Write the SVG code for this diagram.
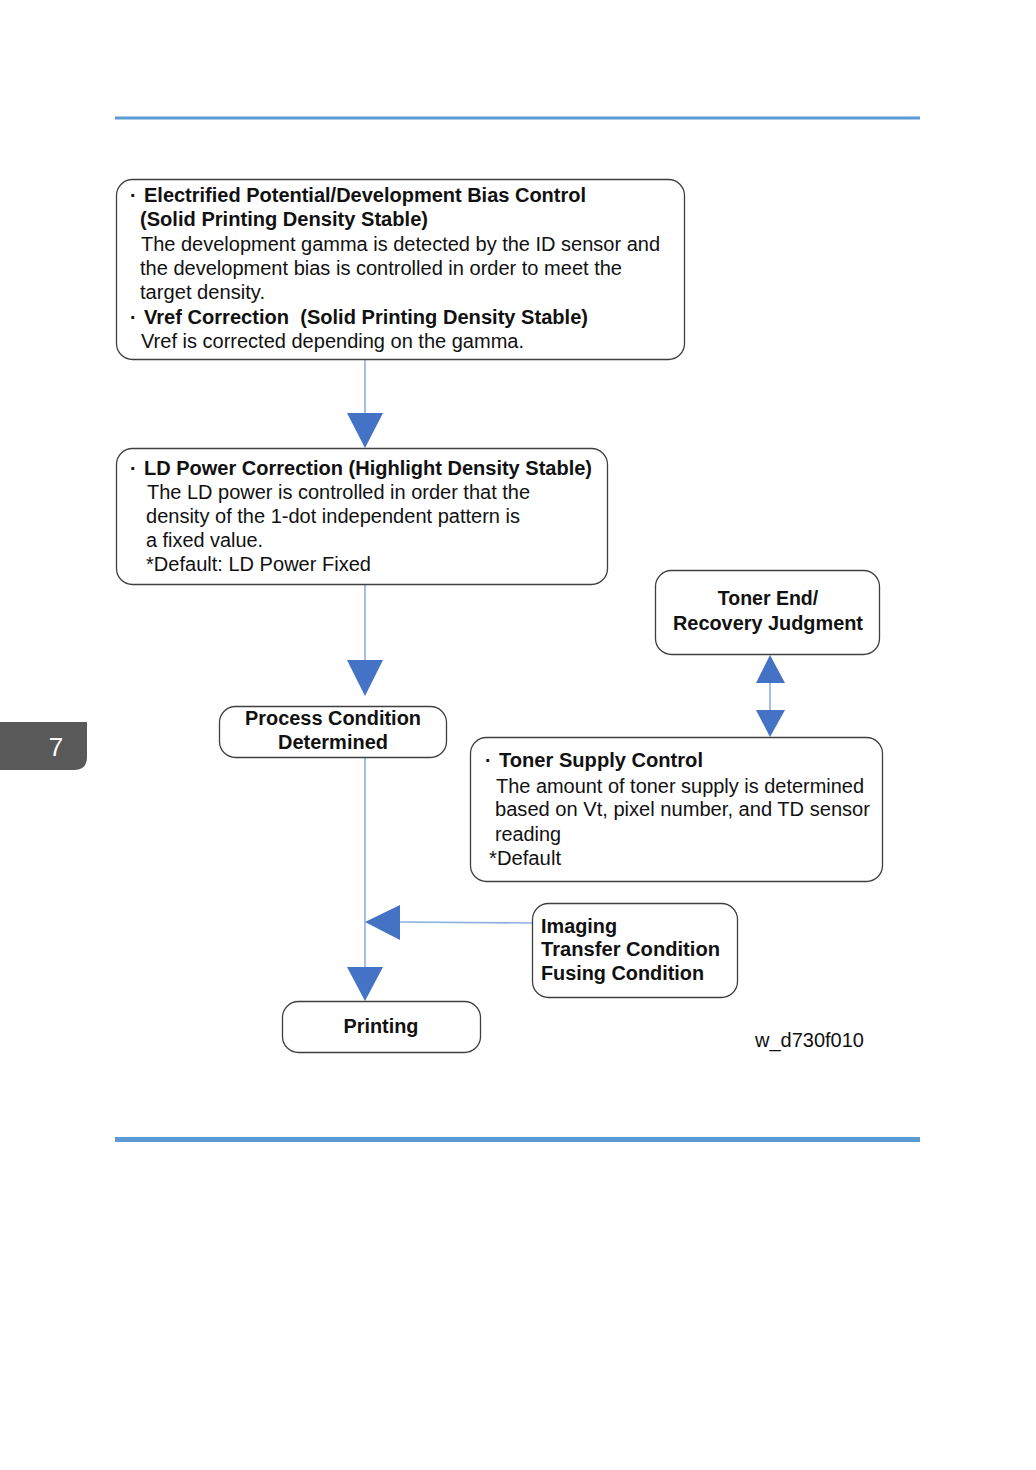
<svg xmlns="http://www.w3.org/2000/svg" width="1036" height="1470" viewBox="0 0 1036 1470">
<style>
.box{fill:#fff;stroke:#3f3f3f;stroke-width:1.3}
.t{font-family:"Liberation Sans",Arial,sans-serif;font-size:19.5px;fill:#111}
.b{font-weight:bold}
.ln{stroke:#8eb0df;stroke-width:1.6;fill:none}
.ar{fill:#4472c4}
</style>
<rect width="1036" height="1470" fill="#fff"/>
<rect x="115" y="116.5" width="805" height="3" fill="#5b9bd5"/>
<rect x="115" y="1137" width="805" height="5" fill="#5b9bd5"/>
<g id="tab">
<path d="M0,722 H87 V757 Q87,770 74,770 H0 Z" fill="#595959"/>
<text x="56" y="756" font-family="Liberation Sans,Arial,sans-serif" font-size="26" fill="#fff" text-anchor="middle">7</text>
</g>
<g id="connectors">
<line class="ln" x1="365" y1="360" x2="365" y2="416"/>
<polygon class="ar" points="347,413 383,413 365,448"/>
<line class="ln" x1="365" y1="585" x2="365" y2="663"/>
<polygon class="ar" points="347,660 383,660 365,696"/>
<line class="ln" x1="365" y1="758" x2="365" y2="970"/>
<polygon class="ar" points="347,967 383,967 365,1001"/>
<line class="ln" x1="532" y1="923" x2="398" y2="922"/>
<polygon class="ar" points="400,905 400,940 365,922"/>
<line class="ln" x1="770" y1="680" x2="770" y2="712"/>
<polygon class="ar" points="770,655 785,683 756,683"/>
<polygon class="ar" points="756,710 785,710 770,737"/>
</g>
<g id="n1">
<rect class="box" x="116.5" y="179.5" width="568" height="180" rx="16"/>
<text class="t b" x="130" y="202">·</text>
<text class="t b" x="144" y="202" textLength="442" lengthAdjust="spacingAndGlyphs">Electrified Potential/Development Bias Control</text>
<text class="t b" x="140" y="226" textLength="288" lengthAdjust="spacingAndGlyphs">(Solid Printing Density Stable)</text>
<text class="t" x="141" y="251" textLength="519" lengthAdjust="spacingAndGlyphs">The development gamma is detected by the ID sensor and</text>
<text class="t" x="140" y="275" textLength="482" lengthAdjust="spacingAndGlyphs">the development bias is controlled in order to meet the</text>
<text class="t" x="140" y="299" textLength="125" lengthAdjust="spacingAndGlyphs">target density.</text>
<text class="t b" x="130" y="324">·</text>
<text class="t b" x="144" y="324" xml:space="preserve" textLength="444" lengthAdjust="spacingAndGlyphs">Vref Correction  (Solid Printing Density Stable)</text>
<text class="t" x="141" y="348" textLength="383" lengthAdjust="spacingAndGlyphs">Vref is corrected depending on the gamma.</text>
</g>
<g id="n2">
<rect class="box" x="116.5" y="448.5" width="491" height="136" rx="16"/>
<text class="t b" x="130" y="475">·</text>
<text class="t b" x="144" y="475" textLength="448" lengthAdjust="spacingAndGlyphs">LD Power Correction (Highlight Density Stable)</text>
<text class="t" x="147" y="499" textLength="383" lengthAdjust="spacingAndGlyphs">The LD power is controlled in order that the</text>
<text class="t" x="146" y="523" textLength="374" lengthAdjust="spacingAndGlyphs">density of the 1-dot independent pattern is</text>
<text class="t" x="146" y="547" textLength="117" lengthAdjust="spacingAndGlyphs">a fixed value.</text>
<text class="t" x="146" y="571" textLength="225" lengthAdjust="spacingAndGlyphs">*Default: LD Power Fixed</text>
</g>
<g id="n3">
<rect class="box" x="655.5" y="570.5" width="224" height="84" rx="16"/>
<text class="t b" x="768" y="605" text-anchor="middle">Toner End/</text>
<text class="t b" x="768" y="630" text-anchor="middle" textLength="190" lengthAdjust="spacingAndGlyphs">Recovery Judgment</text>
</g>
<g id="n4">
<rect class="box" x="219.5" y="706.5" width="227" height="51" rx="16"/>
<text class="t b" x="333" y="725" text-anchor="middle" textLength="176" lengthAdjust="spacingAndGlyphs">Process Condition</text>
<text class="t b" x="333" y="749" text-anchor="middle" textLength="110" lengthAdjust="spacingAndGlyphs">Determined</text>
</g>
<g id="n5">
<rect class="box" x="470.5" y="737.5" width="412" height="144" rx="16"/>
<text class="t b" x="485" y="767">·</text>
<text class="t b" x="499" y="767" textLength="204" lengthAdjust="spacingAndGlyphs">Toner Supply Control</text>
<text class="t" x="496" y="793" textLength="368" lengthAdjust="spacingAndGlyphs">The amount of toner supply is determined</text>
<text class="t" x="495" y="816" textLength="375" lengthAdjust="spacingAndGlyphs">based on Vt, pixel number, and TD sensor</text>
<text class="t" x="495" y="841" textLength="66" lengthAdjust="spacingAndGlyphs">reading</text>
<text class="t" x="489" y="865" textLength="72" lengthAdjust="spacingAndGlyphs">*Default</text>
</g>
<g id="n6">
<rect class="box" x="532.5" y="903.5" width="205" height="94" rx="16"/>
<text class="t b" x="541" y="933" textLength="76" lengthAdjust="spacingAndGlyphs">Imaging</text>
<text class="t b" x="541" y="956" textLength="179" lengthAdjust="spacingAndGlyphs">Transfer Condition</text>
<text class="t b" x="541" y="980" textLength="163" lengthAdjust="spacingAndGlyphs">Fusing Condition</text>
</g>
<g id="n7">
<rect class="box" x="282.5" y="1001.5" width="198" height="51" rx="16"/>
<text class="t b" x="381" y="1033" text-anchor="middle" textLength="75" lengthAdjust="spacingAndGlyphs">Printing</text>
</g>
<text class="t" x="755" y="1047" textLength="109" lengthAdjust="spacingAndGlyphs">w_d730f010</text>
</svg>
